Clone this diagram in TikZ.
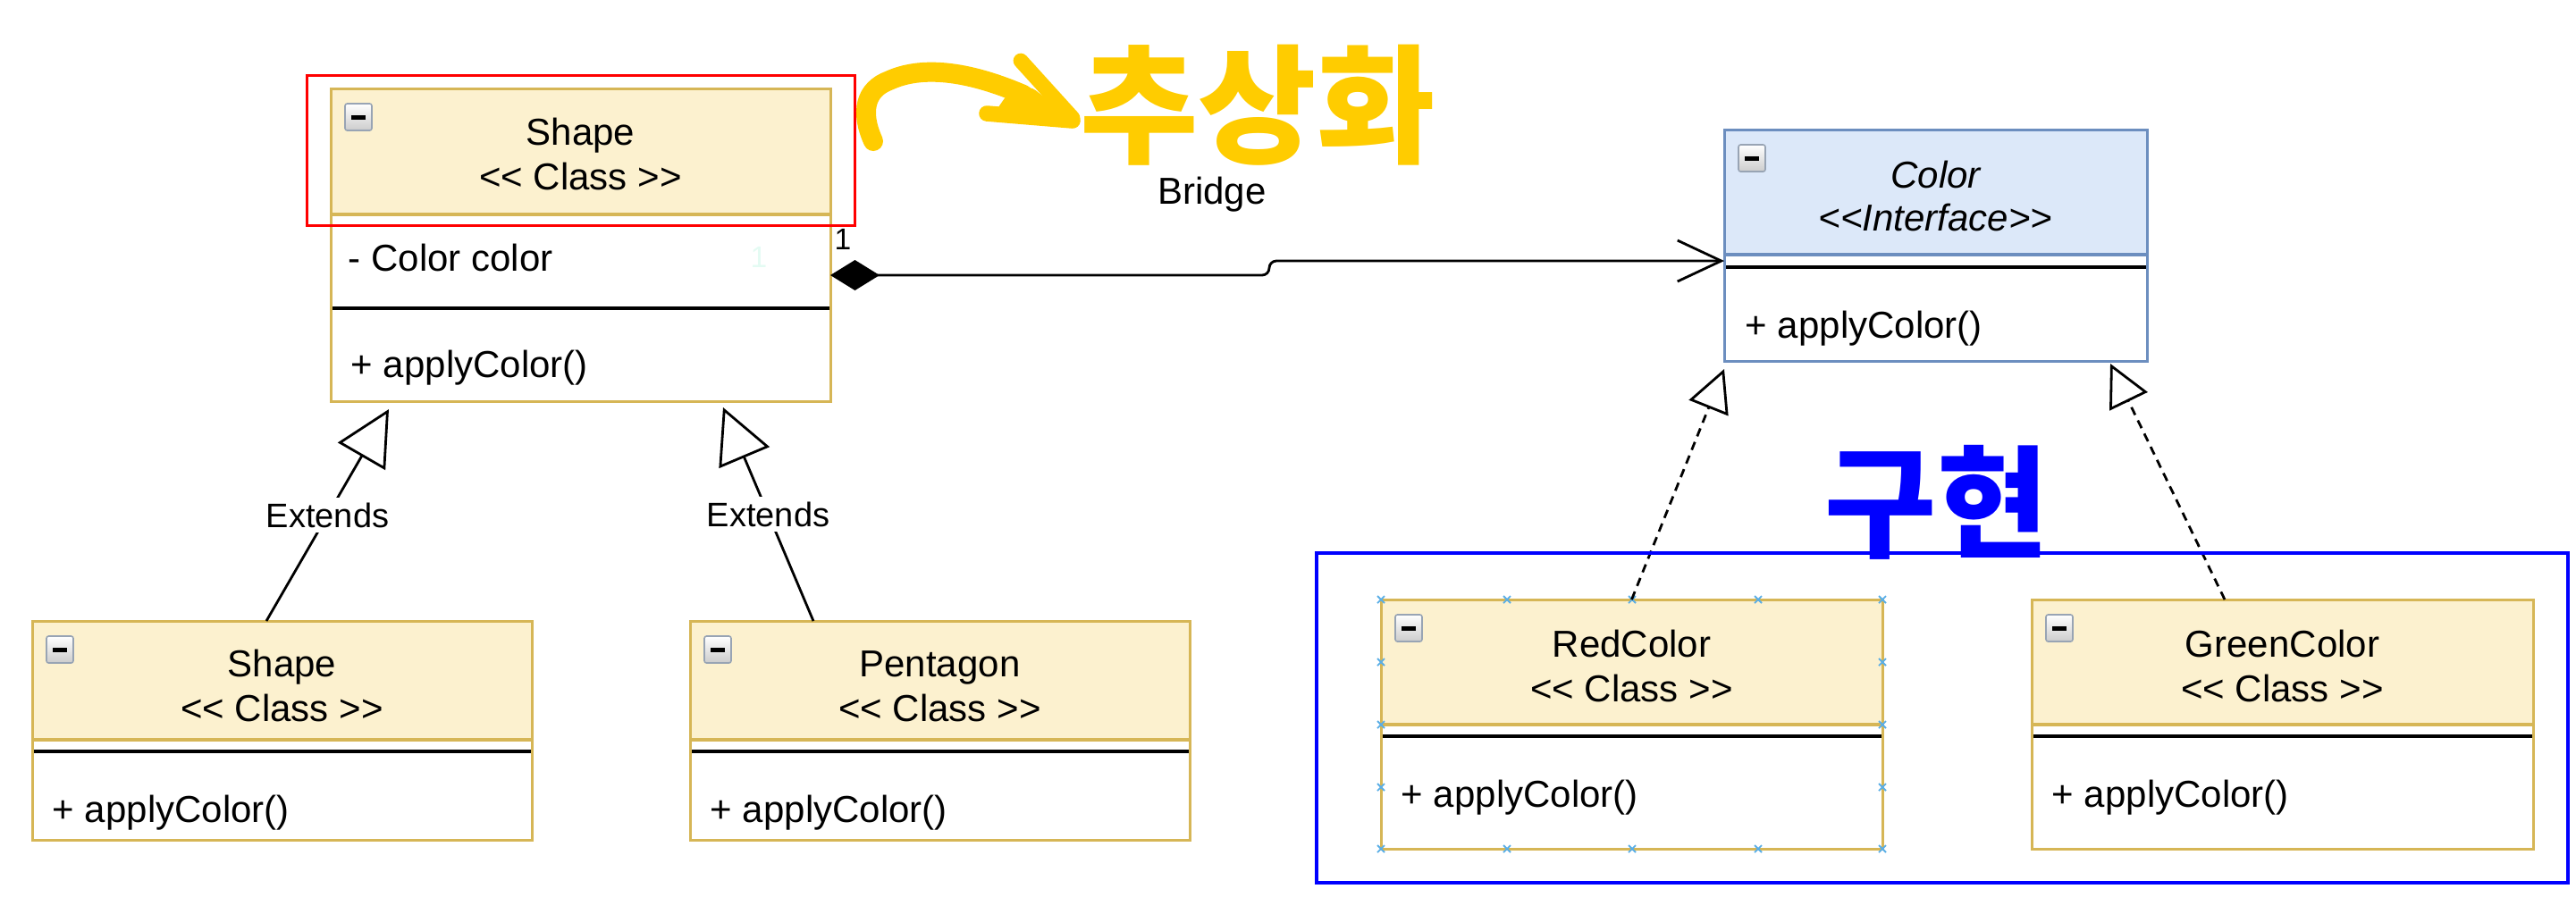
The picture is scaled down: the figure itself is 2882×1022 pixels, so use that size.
\documentclass[tikz,border=0pt]{standalone}
\usepackage{fontspec}
\setmainfont{Liberation Sans}[Ligatures=TeXOff]
\newfontfamily\krfont{Noto Sans CJK KR}
\usetikzlibrary{arrows.meta,fit,calc}
\definecolor{yfill}{HTML}{FCF1CF}
\definecolor{ystroke}{HTML}{D6B656}
\definecolor{bfill}{HTML}{DCE8F9}
\definecolor{bstroke}{HTML}{6C8EBF}
\definecolor{hl}{HTML}{FFCC00}
\definecolor{selx}{HTML}{5AAEE6}
\definecolor{faint}{HTML}{E4FBF3}
\definecolor{iconbd}{HTML}{98A4B4}
\definecolor{pureblue}{HTML}{0000FF}
\definecolor{purered}{HTML}{FF0000}

\newcommand{\UmlIcon}[2]{%
  \shade[top color=white, bottom color=gray!40, draw=iconbd, line width=0.4pt, rounded corners=0.6pt] (#1,#2) rectangle ++(30,30);
  \fill[black] (#1+7,#2+13) rectangle ++(16,4.5);
}
\newcommand{\UmlBox}[9]{%
  \fill[#8] (#2,#3) rectangle (#4,#6);
  \draw[#9, line width=0.8pt] (#2,#6) -- (#4,#6);
  \draw[black, line width=0.8pt] (#2,#7) -- (#4,#7);
  \node[fit={(#2,#3) (#4,#5)}, inner sep=0pt, outer sep=0pt, draw=#9, line width=0.75pt] (#1) {};
  \UmlIcon{#2+16}{#3+17}
}

\tikzset{
  ttl/.style={font=\fontsize{10.5}{12}\selectfont, inner sep=0pt, anchor=base},
  ittl/.style={font=\fontsize{10.5}{12}\selectfont\itshape, inner sep=0pt, anchor=base},
  mem/.style={font=\fontsize{10.5}{12}\selectfont, inner sep=0pt, anchor=base west},
  elbl/.style={font=\fontsize{9.5}{11}\selectfont, fill=white, inner sep=1.5pt},
  ext/.style={line width=0.7pt, -{Triangle[open, length=15.25pt, width=15.25pt, line width=0.7pt]}},
  real/.style={line width=0.7pt, dash pattern=on 2.4pt off 1.7pt, -{Triangle[open, length=11.75pt, width=11.75pt, line width=0.7pt]}},
  assoc/.style={line width=0.7pt, rounded corners=2pt, {Diamond[length=13.75pt, width=8.5pt]}-{Straight Barb[length=12.25pt, width=11.5pt, line width=0.7pt]}},
  selmark/.style={draw=selx, line width=0.45pt},
}

\begin{document}
\begin{tikzpicture}[x=0.25pt, y=-0.25pt]
\useasboundingbox (0,0) rectangle (2882,1022);

% ---- class boxes ----
\UmlBox{shapeA}{370}{99}{929}{449}{240}{345}{yfill}{ystroke}
\UmlBox{shapeL}{36}{695}{595}{940}{828}{841}{yfill}{ystroke}
\UmlBox{pentaB}{772}{695}{1331}{940}{828}{841}{yfill}{ystroke}
\UmlBox{colorI}{1929}{145}{2402}{404}{285}{299}{bfill}{bstroke}
\UmlBox{redC}{1545}{671}{2106}{950}{811}{824}{yfill}{ystroke}
\UmlBox{greenC}{2273}{671}{2834}{950}{811}{824}{yfill}{ystroke}

% ---- texts ----
\node[ttl] (shapeAt1) at (649.5,162) {Shape};
\node[ttl] (shapeAt2) at (649.5,212) {<< Class >>};
\node[mem] (shapeAa) at (389,303) {- Color color};
\node[mem] (shapeAm) at (392,422) {+ applyColor()};

\node[ttl] (shapeLt1) at (315.5,757) {Shape};
\node[ttl] (shapeLt2) at (315.5,807) {<< Class >>};
\node[mem] (shapeLm) at (58,920) {+ applyColor()};

\node[ttl] (pentaBt1) at (1051.5,757) {Pentagon};
\node[ttl] (pentaBt2) at (1051.5,807) {<< Class >>};
\node[mem] (pentaBm) at (794,920) {+ applyColor()};

\node[ittl] (colorIt1) at (2165.5,210) {Color};
\node[ittl] (colorIt2) at (2165.5,258) {<<Interface>>};
\node[mem] (colorIm) at (1952,378) {+ applyColor()};

\node[ttl] (redCt1) at (1825.5,735) {RedColor};
\node[ttl] (redCt2) at (1825.5,785) {<< Class >>};
\node[mem] (redCm) at (1567,903) {+ applyColor()};

\node[ttl] (greenCt1) at (2553.5,735) {GreenColor};
\node[ttl] (greenCt2) at (2553.5,785) {<< Class >>};
\node[mem] (greenCm) at (2295,903) {+ applyColor()};

% ---- selection marks on RedColor ----
\foreach \px in {1545,1686,1826,1967,2106} {
  \foreach \py in {671,950} {
    \draw[selmark] (\px-4,\py-4) -- (\px+4,\py+4) (\px-4,\py+4) -- (\px+4,\py-4);
  }
}
\foreach \py in {741,811,881} {
  \foreach \px in {1545,2106} {
    \draw[selmark] (\px-4,\py-4) -- (\px+4,\py+4) (\px-4,\py+4) -- (\px+4,\py-4);
  }
}

% ---- connectors ----
\draw[assoc] ([yshift=-8.5pt]shapeA.east) -- ++(491,0) -- ++(0,-16) -- ([yshift=-4.375pt]colorI.west);
\node[font=\fontsize{8.4}{10}\selectfont, inner sep=0pt, anchor=base] (mult1) at (943,279) {1};
\node[font=\fontsize{8.4}{10}\selectfont, inner sep=0pt, anchor=base, text=faint] (mult2) at (849,299) {1};
\node[ttl] (bridge) at (1356,228) {Bridge};

\draw[ext] ([xshift=-4.375pt]shapeL.north) -- node[elbl] (ext1) {Extends} ([xshift=-53.625pt, yshift=-2.25pt]shapeA.south);
\draw[ext] ([xshift=-35.375pt]pentaB.north) -- node[elbl] (ext2) {Extends} ([xshift=39.875pt, yshift=-1.75pt]shapeA.south);

\draw[real] (redC.north) -- ([xshift=-59.125pt, yshift=-2.25pt]colorI.south);
\draw[real] ([xshift=-16.125pt]greenC.north) -- ([xshift=48.875pt, yshift=-0.75pt]colorI.south);

% ---- highlight frames ----
\draw[purered, line width=0.75pt] (343,84) rectangle (956,252);
\draw[pureblue, line width=0.8pt] (1473,619) rectangle (2873,988);

% ---- annotations ----
\draw[hl, line width=5.5pt, line cap=round] (977,158) .. controls (962,125) and (968,100) .. (995,90) .. controls (1030,74) and (1080,78) .. (1145,106);
\fill[hl, rounded corners=2pt] (1128,104) -- (1152,96) -- (1204,136) -- (1108,133) -- cycle;
\draw[hl, line width=4.2pt, line cap=round] (1142,68) -- (1200,132);
\draw[hl, line width=4.4pt, line cap=round] (1104,127) -- (1200,135);
\node[font={\krfont\bfseries\fontsize{36pt}{36pt}\selectfont}, text=hl, inner sep=0pt] (abst) at (1407,118) {추상화};
\node[font={\krfont\bfseries\fontsize{34pt}{34pt}\selectfont}, text=pureblue, inner sep=0pt] (impl) at (2167,562) {구현};
\end{tikzpicture}
\end{document}
